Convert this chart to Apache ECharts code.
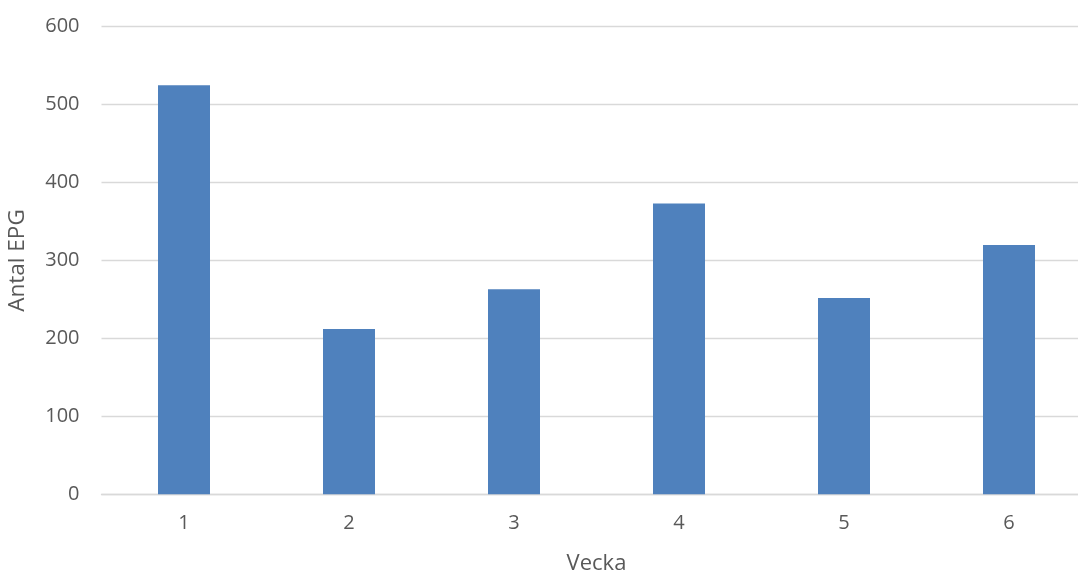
<!DOCTYPE html>
<html><head><meta charset="utf-8">
<script src="https://cdn.jsdelivr.net/npm/echarts@6/dist/echarts.min.js"></script>
<style>html,body{margin:0;padding:0;background:#fff;overflow:hidden}#c{width:1078px;height:573px}</style>
</head><body><div id="c"></div>
<script>
const categories = ['1','2','3','4','5','6'];
const values = [525, 212, 263, 373, 252, 320];
const yTicks = { min: 0, max: 600, interval: 100 };
const font = '"Open Sans", "Noto Sans", sans-serif';
const chart = echarts.init(document.getElementById('c'), null, {renderer:'canvas'});
chart.setOption({
  animation: false,
  grid: { left: 101.5, width: 990, top: 26.7, bottom: 78.7, containLabel: false, outerBoundsMode: 'none' },
  xAxis: {
    type: 'category', data: categories,
    name: 'Vecka', nameLocation: 'middle', nameGap: 58,
    nameTextStyle: { color: '#595959', fontSize: 22, fontFamily: font },
    axisLine: { lineStyle: { color: '#d9d9d9', width: 1.3 } },
    axisTick: { show: false },
    axisLabel: { color: '#595959', fontSize: 20, fontFamily: font, margin: 19 }
  },
  yAxis: {
    type: 'value', min: yTicks.min, max: yTicks.max, interval: yTicks.interval,
    name: 'Antal EPG', nameLocation: 'middle', nameGap: 72,
    nameTextStyle: { color: '#595959', fontSize: 22.5, fontFamily: font },
    axisLine: { show: false }, axisTick: { show: false },
    axisLabel: { color: '#595959', fontSize: 20, fontFamily: font, margin: 22 },
    splitLine: { lineStyle: { color: '#d9d9d9', width: 1.3 } }
  },
  series: [{
    type: 'bar', data: values, barWidth: 52,
    itemStyle: { color: '#4f81bd' }
  }]
});
</script></body></html>
